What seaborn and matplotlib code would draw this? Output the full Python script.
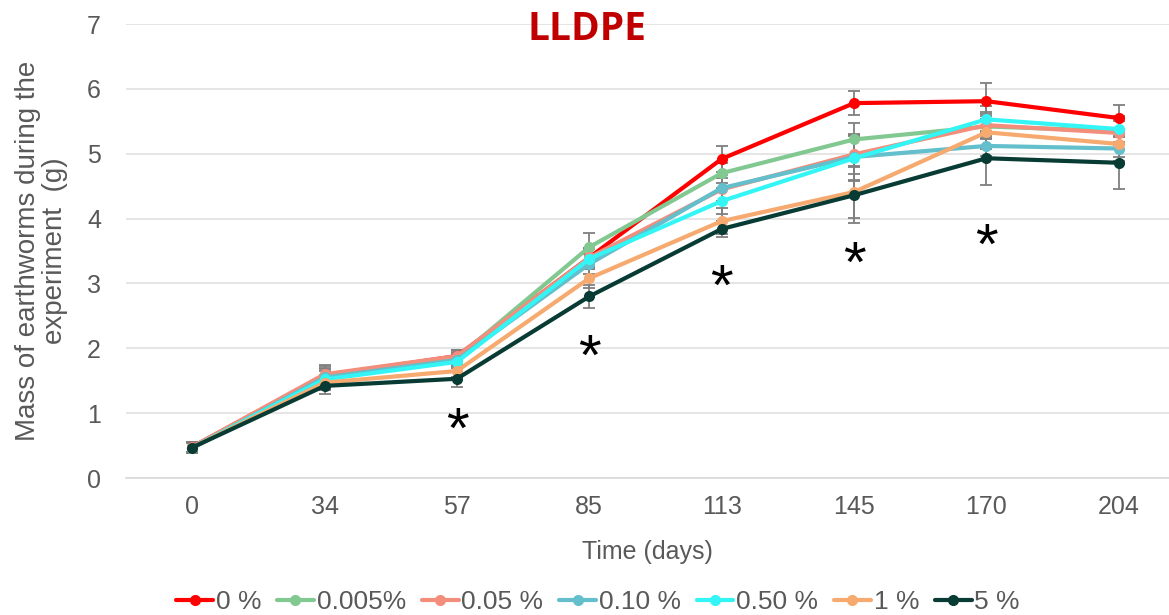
import numpy as np
import pandas as pd
import matplotlib
matplotlib.use("Agg")
import matplotlib.pyplot as plt
import seaborn as sns

days = ["0", "34", "57", "85", "113", "145", "170", "204"]
doses = ["0 %", "0.005%", "0.05 %", "0.10 %", "0.50 %", "1 %", "5 %"]

mass_0 = [0.48, 1.58, 1.88, 3.40, 4.92, 5.78, 5.81, 5.55]
mass_0005 = [0.47, 1.55, 1.85, 3.56, 4.70, 5.22, 5.42, 5.35]
mass_005 = [0.48, 1.60, 1.88, 3.40, 4.45, 4.99, 5.44, 5.32]
mass_010 = [0.46, 1.55, 1.82, 3.30, 4.47, 4.95, 5.12, 5.08]
mass_050 = [0.47, 1.52, 1.79, 3.38, 4.27, 4.93, 5.53, 5.38]
mass_1 = [0.47, 1.47, 1.65, 3.08, 3.96, 4.41, 5.33, 5.15]
mass_5 = [0.47, 1.42, 1.53, 2.80, 3.84, 4.36, 4.93, 4.86]

sd_0 = [0.08, 0.15, 0.10, 0.15, 0.20, 0.18, 0.28, 0.20]
sd_0005 = [0.08, 0.14, 0.10, 0.22, 0.15, 0.25, 0.20, 0.18]
sd_005 = [0.08, 0.14, 0.10, 0.15, 0.18, 0.30, 0.20, 0.18]
sd_010 = [0.08, 0.13, 0.10, 0.15, 0.20, 0.35, 0.15, 0.20]
sd_050 = [0.08, 0.13, 0.10, 0.15, 0.20, 0.35, 0.20, 0.20]
sd_1 = [0.08, 0.12, 0.10, 0.15, 0.20, 0.40, 0.25, 0.20]
sd_5 = [0.08, 0.12, 0.12, 0.18, 0.12, 0.43, 0.42, 0.40]

# significance marks above each sampling day (day label, y position)
star_days = ["57", "85", "113", "145", "170"]
star_y = [0.70, 1.83, 2.91, 3.26, 3.53]

colors = ["#FF0000", "#82C891", "#F28E7B", "#62BFCB", "#33F5F5", "#F6AA6F", "#073B33"]

means = [mass_0, mass_0005, mass_005, mass_010, mass_050, mass_1, mass_5]
sds = [sd_0, sd_0005, sd_005, sd_010, sd_050, sd_1, sd_5]

rows = []
for dose, m, s in zip(doses, means, sds):
    for i, (d, v, e) in enumerate(zip(days, m, s)):
        rows.append({"pos": i, "day": d, "dose": dose, "mass": v, "sd": e})
df = pd.DataFrame(rows)

sns.set_theme(style="white")
plt.rcParams["font.family"] = ["Liberation Sans", "DejaVu Sans"]

fig = plt.figure(figsize=(11.69, 6.15), dpi=100)
ax = fig.add_axes([126 / 1169, 137 / 615, (1169 - 126) / 1169, 454 / 615])

# grey capped error bars under the lines
for dose in doses:
    sub = df[df["dose"] == dose]
    ax.errorbar(sub["pos"], sub["mass"], yerr=sub["sd"], fmt="none",
                ecolor="#7F7F7F", elinewidth=1.3, capsize=4, capthick=1.3, zorder=2)

sns.lineplot(data=df, x="pos", y="mass", hue="dose", hue_order=doses,
             palette=colors, marker="o", markersize=8, markeredgewidth=0,
             linewidth=3.0, ax=ax, legend=True, zorder=3)

ax.set_ylim(0, 7)
ax.set_xlim(-0.5, (1169 - 192) / 132.4)
ax.set_xticks(range(len(days)))
ax.set_xticklabels(days)
ax.set_yticks(range(0, 8))
ax.grid(axis="y", color="#E0E0E0", linewidth=1.2)
ax.grid(axis="x", visible=False)
for side in ["top", "right", "left"]:
    ax.spines[side].set_visible(False)
ax.spines["bottom"].set_color("#D9D9D9")
ax.spines["bottom"].set_linewidth(1.2)
ax.tick_params(axis="both", colors="#595959", labelsize=18, length=0)
ax.tick_params(axis="y", pad=18)
ax.tick_params(axis="x", pad=12)

ax.set_xlabel("Time (days)", fontsize=18, color="#595959", labelpad=15)
ax.set_ylabel("Mass of earthworms during the\nexperiment  (g)", fontsize=20,
              color="#595959", labelpad=14, linespacing=1.05)

for d, y in zip(star_days, star_y):
    ax.text(days.index(d), y, "*", ha="center", va="center", fontsize=42,
            color="black")

fig.text(587 / 1169, 1 - 30 / 615, "LLDPE", ha="center", va="center",
         fontsize=28, fontweight="bold", color="#C00000", family="Open Sans")

handles, labels = ax.get_legend_handles_labels()
ax.legend(handles, labels, loc="center", bbox_to_anchor=(598 / 1169, 1 - 602 / 615),
          bbox_transform=fig.transFigure, ncol=7, frameon=False, fontsize=19,
          handlelength=1.4, handletextpad=0.1, columnspacing=0.6, labelcolor="#595959")

fig.savefig("out.png", dpi=100)
